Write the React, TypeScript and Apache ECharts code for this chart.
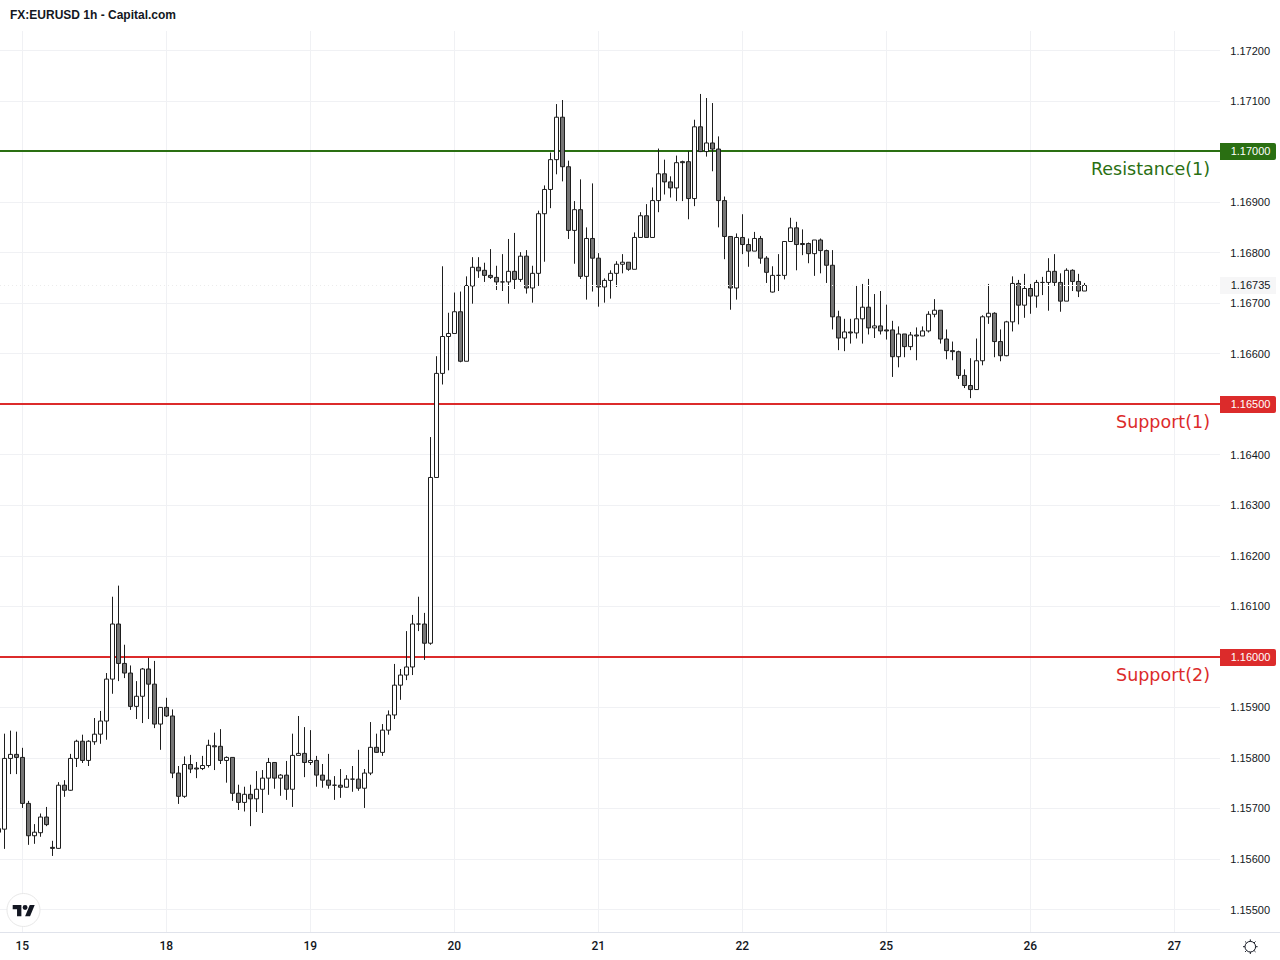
import React, { useEffect, useRef } from "react";
import * as echarts from "echarts";

const chartTitle = "FX:EURUSD 1h - Capital.com";
// Candle values in points (0.00001) above this base price.
const priceBase = 1.16;
const opens = [
  -340,-341,-201,-193,-199,-290,-354,-348,-317,-377,-379,-254,-264,-201,-167,-205,-168,-153,-127,-44,65,-13,-32,-98,-78,-24,-54,-133,-100,-117,-230,-276,-213,-220,
  -221,-215,-176,-177,-205,-199,-270,-288,-272,-281,-262,-240,-209,-240,-234,-262,-195,-191,-209,-205,-234,-244,-254,-254,-258,-242,-242,-260,-230,-179,-189,-145,-115,-56,-36,-20,65,65,27,355,
  561,634,640,683,585,734,771,765,755,751,742,742,763,747,793,730,759,877,925,984,1068,970,844,885,753,828,789,
  732,745,759,777,781,767,830,873,830,903,956,940,928,980,980,907,1049,1000,1017,1005,903,832,730,830,816,803,828,789,722,755,
  755,822,849,818,818,798,825,804,775,673,631,643,641,669,692,651,655,647,647,594,639,614,637,635,645,678,686,629,606,604,557,537,529,586,673,680,624,596,663,739,696,729,714,741,741,763,741,704,765,743,724,
];
const closes = [
  -347,-201,-193,-199,-290,-354,-347,-317,-332,-379,-254,-264,-201,-167,-205,-167,-153,-127,-44,65,-13,-32,-98,-78,-24,-54,-133,-100,-117,-230,-276,-213,-222,-222,
  -215,-175,-178,-205,-199,-270,-288,-272,-281,-262,-240,-209,-240,-234,-262,-195,-191,-209,-205,-234,-244,-254,-254,-258,-242,-242,-260,-230,-179,-189,-145,-115,-56,-36,-20,65,65,27,355,561,
  634,640,683,585,735,771,764,755,751,742,742,763,747,793,730,759,877,925,984,1068,970,844,885,753,828,789,732,
  745,759,777,781,767,830,873,830,903,956,940,928,978,978,907,1049,1000,1017,1005,903,832,730,830,816,803,828,789,761,755,755,
  822,849,816,816,798,825,804,775,673,631,643,641,669,692,651,655,645,645,594,639,614,637,635,645,678,686,629,606,604,557,537,529,586,673,680,624,596,663,739,696,729,714,741,741,763,741,704,765,743,724,735,
];
const highs = [
  -340,-152,-146,-148,-180,-285,-331,-310,-297,-364,-248,-244,-192,-164,-154,-165,-121,-107,-32,119,141,24,-17,-48,-22,-2,-8,-100,-81,-104,-216,-197,-194,-208,
  -196,-164,-150,-143,-197,-199,-253,-257,-253,-226,-224,-200,-209,-232,-206,-152,-117,-139,-145,-196,-212,-192,-236,-222,-234,-216,-184,-222,-129,-152,-133,-106,-14,-24,51,83,119,87,435,595,
  773,681,721,723,753,791,791,780,807,774,797,827,839,801,805,774,883,933,998,1094,1102,982,902,945,850,937,799,
  749,765,783,797,781,840,880,896,929,1006,984,951,992,982,1001,1063,1114,1106,1096,1030,911,832,838,876,828,841,833,793,773,797,
  822,869,861,846,820,825,828,806,805,685,669,669,736,738,748,718,724,697,665,654,639,643,652,654,684,708,686,648,624,606,569,591,630,676,738,682,648,665,753,746,758,738,746,752,789,797,759,769,767,758,740,
];
const lows = [
  -347,-380,-232,-232,-299,-372,-370,-356,-335,-394,-380,-277,-265,-218,-210,-216,-174,-172,-164,-73,-48,-42,-105,-123,-131,-123,-141,-184,-119,-240,-291,-279,-230,-240,
  -224,-219,-224,-212,-249,-285,-303,-306,-335,-307,-309,-273,-261,-275,-283,-297,-195,-238,-214,-257,-259,-261,-283,-279,-259,-267,-265,-299,-234,-190,-196,-154,-123,-85,-46,-36,51,-6,24,355,
  539,567,640,583,585,699,750,742,748,726,724,699,728,742,719,701,734,782,888,955,941,827,778,748,707,723,693,
  701,709,732,759,764,767,830,830,830,880,915,909,902,902,866,892,999,990,961,850,787,687,707,797,772,803,778,740,721,724,
  747,822,765,795,779,754,759,740,648,607,605,620,630,620,638,631,638,628,554,573,593,607,587,635,642,672,620,589,587,550,532,512,529,577,659,593,585,595,644,658,671,679,691,716,685,734,683,704,724,712,724,
];
const dayLabels = ["15", "18", "19", "20", "21", "22", "25", "26", "27"];
const dayTickIndexes = [4, 28, 52, 76, 100, 124, 148, 172, 196];
const categoryCount = 205;
const priceTicks = [
  1.155, 1.156, 1.157, 1.158, 1.159, 1.16, 1.161, 1.162, 1.163, 1.164, 1.165, 1.166, 1.167, 1.168, 1.169, 1.17, 1.171, 1.172,
];
const levelValues = [1.17, 1.165, 1.16];
const levelNames = ["Resistance(1)", "Support(1)", "Support(2)"];
const levelColors = ["#2a6f12", "#dc2b2b", "#dc2b2b"];
const lastPrice = 1.16735;

const INK = "#131722";
const WICK = "#1e1e1e";
const GRID = "#f0f1f4";
const SANS = '"Liberation Sans", Arial, sans-serif';

echarts.graphic.registerShape(
  "tvLogo",
  echarts.graphic.extendPath("M14 22H7V11H0V4h14v18zM28 22h-8l7.5-18h8L28 22zM16 8a4 4 0 1 0 8 0a4 4 0 1 0-8 0z", {})
);
echarts.graphic.registerShape(
  "sunIcon",
  echarts.graphic.extendPath(
    "M4.7 10a5.3 5.3 0 1 0 10.6 0a5.3 5.3 0 1 0-10.6 0zM10 2.7V4.7M10 15.3V17.3M2.7 10H4.7M15.3 10H17.3M4.8 4.8L6.2 6.2M13.8 13.8L15.2 15.2M4.8 15.2L6.2 13.8M13.8 6.2L15.2 4.8",
    {}
  )
);

const toPrice = (pts: number) => priceBase + pts / 100000;

export default function App() {
  const ref = useRef<HTMLDivElement>(null);

  useEffect(() => {
    const chart = echarts.init(ref.current!, undefined, { renderer: "svg" });
    const categories = Array.from({ length: categoryCount }, (_, i) => {
      const d = dayTickIndexes.indexOf(i);
      return d >= 0 ? dayLabels[d] : `h${i}`;
    });
    const isDay = (i: number) => dayTickIndexes.includes(i);
    const candles = opens.map((o, i) => [toPrice(o), toPrice(closes[i]), toPrice(lows[i]), toPrice(highs[i])]);

    chart.setOption({
      animation: false,
      backgroundColor: "#ffffff",
      title: {
        text: chartTitle,
        left: 10,
        top: 9,
        padding: 0,
        textStyle: { fontFamily: SANS, fontSize: 12, fontWeight: "bold", color: INK },
      },
      grid: { left: -1.67, top: 31, width: 1224, height: 901, containLabel: false, outerBoundsMode: "none" },
      xAxis: {
        type: "category",
        data: categories,
        boundaryGap: false,
        axisLine: { show: false },
        axisTick: { show: false },
        axisLabel: {
          interval: (i: number) => isDay(i),
          margin: 8,
          color: INK,
          fontFamily: "Roboto",
          fontWeight: 500,
          fontSize: 12,
        },
        splitLine: { show: true, interval: (i: number) => isDay(i), lineStyle: { color: GRID, width: 1 } },
      },
      yAxis: {
        type: "value",
        position: "right",
        min: 1.154555,
        max: 1.172386,
        scale: true,
        axisLine: { show: false },
        axisTick: { show: false, customValues: priceTicks },
        axisLabel: {
          customValues: priceTicks,
          margin: 8,
          color: INK,
          fontFamily: SANS,
          fontSize: 11,
          padding: [0, 0, 1.5, 0],
          formatter: (v: number) => v.toFixed(5),
        },
        splitLine: { show: true, lineStyle: { color: GRID, width: 1 } },
      },
      series: [
        {
          type: "candlestick",
          z: 3,
          barWidth: 4,
          data: candles,
          silent: true,
          itemStyle: {
            color: "#ffffff",
            color0: "#757575",
            borderColor: WICK,
            borderColor0: WICK,
            borderColorDoji: WICK,
            borderWidth: 1,
          },
        },
      ],
    });

    const tags: any[] = [];
    levelValues.forEach((v, i) => {
      const y = Math.round((chart.convertToPixel({ yAxisIndex: 0 }, v) as number) - 0.2);
      tags.push({
        type: "line",
        z: 1,
        shape: { x1: 0, y1: y, x2: 1220, y2: y },
        style: { stroke: levelColors[i], lineWidth: 2 },
      });
      tags.push({
        type: "rect",
        z: 20,
        shape: { x: 1220, y: y - 8, width: 56, height: 17, r: [0, 2, 2, 0] },
        style: { fill: levelColors[i] },
      });
      tags.push({
        type: "text",
        z: 21,
        x: 1250.5,
        y: y,
        style: {
          text: v.toFixed(5),
          fill: "#ffffff",
          font: `11px ${SANS}`,
          align: "center",
          verticalAlign: "middle",
        },
      });
      tags.push({
        type: "text",
        z: 21,
        x: 1210,
        y: y + 18,
        style: {
          text: levelNames[i],
          fill: levelColors[i],
          font: '17.5px "DejaVu Sans"',
          align: "right",
          verticalAlign: "middle",
        },
      });
    });
    const lastY = Math.floor(chart.convertToPixel({ yAxisIndex: 0 }, lastPrice) as number);
    tags.push({
      type: "line",
      z: 5,
      shape: { x1: 0, y1: lastY + 0.5, x2: 1220, y2: lastY + 0.5 },
      style: { stroke: "#ececec", lineWidth: 1, lineDash: [1, 3] },
    });
    tags.push({
      type: "rect",
      z: 20,
      shape: { x: 1220, y: lastY - 8, width: 56, height: 17 },
      style: { fill: "#f6f6f7" },
    });
    tags.push({
      type: "text",
      z: 21,
      x: 1250.5,
      y: lastY,
      style: {
        text: lastPrice.toFixed(5),
        fill: INK,
        font: `11px ${SANS}`,
        align: "center",
        verticalAlign: "middle",
      },
    });

    chart.setOption({
      graphic: [
        { type: "rect", z: 1, shape: { x: 1220, y: 31, width: 4, height: 901 }, style: { fill: "#ffffff" } },
        { type: "line", z: 6, shape: { x1: 0, y1: 932.5, x2: 1280, y2: 932.5 }, style: { stroke: "#e0e3eb", lineWidth: 1 } },
        ...tags,
        { type: "circle", z: 20, shape: { cx: 23.5, cy: 910, r: 16.5 }, style: { fill: "#ffffff", stroke: "#e8e8e8", lineWidth: 1 } },
        { type: "tvLogo", z: 21, x: 12.7, y: 902.5, scaleX: 0.62, scaleY: 0.62, style: { fill: INK } },
        { type: "sunIcon", z: 21, x: 1240.3, y: 936.7, style: { fill: "none", stroke: INK, lineWidth: 1 } },
      ],
    });

    return () => chart.dispose();
  }, []);

  return <div ref={ref} style={{ position: "absolute", left: 0, top: 0, width: 1280, height: 960 }} />;
}
